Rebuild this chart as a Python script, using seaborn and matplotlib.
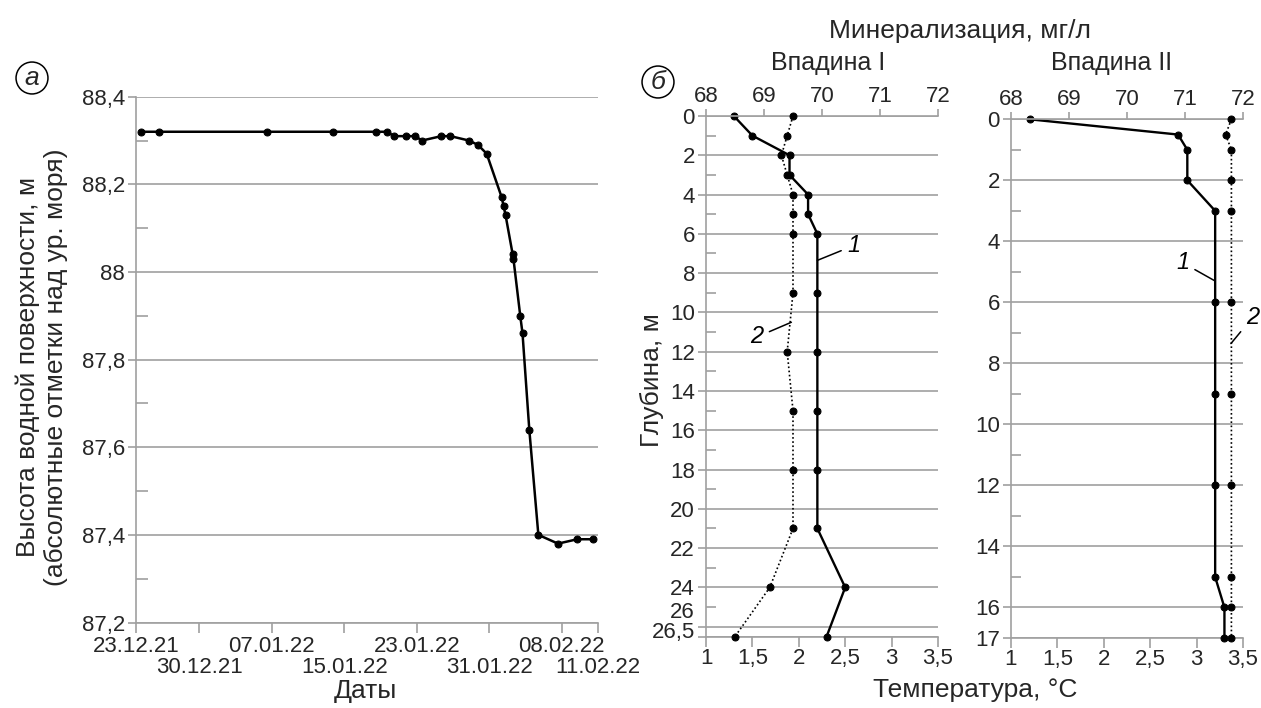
import matplotlib
matplotlib.use("Agg")
import pandas as pd
import seaborn as sns
from matplotlib import pyplot as plt
from matplotlib.ticker import FixedLocator
import matplotlib.transforms as mtransforms

# ---- panel a: water level
dates = ["2021-12-23 14:00", "2021-12-25 12:00", "2022-01-06 12:00", "2022-01-13 17:00",
         "2022-01-18 12:00", "2022-01-19 17:00", "2022-01-20 12:00", "2022-01-21 18:00",
         "2022-01-22 19:00", "2022-01-23 14:00", "2022-01-25 17:00", "2022-01-26 17:00",
         "2022-01-28 18:00", "2022-01-29 18:00", "2022-01-30 17:00", "2022-02-01 09:00",
         "2022-02-01 14:00", "2022-02-01 19:00", "2022-02-02 14:00", "2022-02-02 16:00",
         "2022-02-03 10:00", "2022-02-03 16:00", "2022-02-04 10:00", "2022-02-05 10:00",
         "2022-02-07 14:00", "2022-02-09 17:00", "2022-02-11 11:00"]
level = [88.32, 88.32, 88.32, 88.32, 88.32, 88.32, 88.31, 88.31, 88.31, 88.30,
         88.31, 88.31, 88.30, 88.29, 88.27, 88.17, 88.15, 88.13, 88.04, 88.03,
         87.90, 87.86, 87.64, 87.40, 87.38, 87.39, 87.39]

date_ticks_1 = ["2021-12-23", "2022-01-07", "2022-01-23", "2022-02-08"]
date_labels_1 = ["23.12.21", "07.01.22", "23.01.22", "08.02.22"]
date_ticks_2 = ["2021-12-30", "2022-01-15", "2022-01-31", "2022-02-12"]
date_labels_2 = ["30.12.21", "15.01.22", "31.01.22", "11.02.22"]
level_ticks = [87.2, 87.4, 87.6, 87.8, 88.0, 88.2, 88.4]
level_labels = ["87,2", "87,4", "87,6", "87,8", "88", "88,2", "88,4"]
level_minor = [87.3, 87.5, 87.7, 87.9, 88.1, 88.3]

# ---- panel b: profiles (1 - temperature, 2 - mineralization)
depth_I = [0, 1, 2, 3, 4, 5, 6, 9, 12, 15, 18, 21, 24, 26.5]
temp_I = [1.3, 1.5, 1.9, 1.9, 2.1, 2.1, 2.2, 2.2, 2.2, 2.2, 2.2, 2.2, 2.5, 2.3]
miner_I = [69.5, 69.4, 69.3, 69.4, 69.5, 69.5, 69.5, 69.5, 69.4, 69.5, 69.5, 69.5, 69.1, 68.5]
depth_II = [0, 0.5, 1, 2, 3, 6, 9, 12, 15, 16, 17]
temp_II = [1.2, 2.8, 2.9, 2.9, 3.2, 3.2, 3.2, 3.2, 3.2, 3.3, 3.3]
miner_II = [71.8, 71.7, 71.8, 71.8, 71.8, 71.8, 71.8, 71.8, 71.8, 71.8, 71.8]

temp_ticks = [1, 1.5, 2, 2.5, 3, 3.5]
temp_labels = ["1", "1,5", "2", "2,5", "3", "3,5"]
miner_ticks = [68, 69, 70, 71, 72]
depth_ticks_I = [0, 2, 4, 6, 8, 10, 12, 14, 16, 18, 20, 22, 24, 26, 26.5]
depth_minor_I = [1, 3, 5, 7, 9, 11, 13, 15, 17, 19, 21, 23, 25]
depth_ticks_II = [0, 2, 4, 6, 8, 10, 12, 14, 16, 17]
depth_minor_II = [1, 3, 5, 7, 9, 11, 13, 15]

GREY = "#a0a0a0"
W, H = 1261, 708
LW = 1.2

sns.set_theme(style="white")
plt.rcParams["font.family"] = ["Liberation Sans", "DejaVu Sans"]
plt.rcParams["axes.linewidth"] = LW

fig = plt.figure(figsize=(W / 100, H / 100), dpi=100)


def rect(l, t, r, b):
    return [l / W, 1 - b / H, (r - l) / W, (b - t) / H]


# ---------------- panel a
ax = fig.add_axes(rect(136, 96.7, 598, 622.5))
df = pd.DataFrame({"date": pd.to_datetime(dates), "level": level})
sns.lineplot(data=df, x="date", y="level", estimator=None, color="black", lw=1.8,
             marker="o", markersize=5, markeredgecolor="black", zorder=3, ax=ax)
ax.set_xlim(pd.Timestamp("2021-12-23"), pd.Timestamp("2022-02-12"))
ax.set_ylim(87.2, 88.4)
ax.set_yticks(level_ticks)
ax.set_yticklabels(level_labels)
ax.yaxis.set_minor_locator(FixedLocator(level_minor))
ax.set_xticks(pd.to_datetime(date_ticks_1))
ax.set_xticklabels(date_labels_1)
ax.set_xticks(pd.to_datetime(date_ticks_2), minor=True)
ax.set_xticklabels(date_labels_2, minor=True)
ax.tick_params(axis="x", which="both", direction="out", length=7.2, width=LW,
               color=GREY, labelsize=16, bottom=True)
ax.tick_params(axis="x", which="major", pad=2.5)
ax.tick_params(axis="x", which="minor", pad=17.5)
ax.tick_params(axis="y", which="major", direction="out", length=5.8, width=LW,
               color=GREY, labelsize=16, pad=2.2, left=True)
ax.tick_params(axis="y", which="minor", direction="in", length=8.6, width=LW,
               color=GREY, left=True)
ax.yaxis.grid(True, color=GREY, lw=LW)
ax.set_axisbelow(True)
for s in ["top", "right"]:
    ax.spines[s].set_visible(False)
for s in ["left", "bottom"]:
    ax.spines[s].set_color(GREY)
ax.set_xlabel("")
ax.set_ylabel("")
fig.text(365 / W, 1 - 691 / H, "Даты", fontsize=19, ha="center", va="center")
fig.text(42 / W, 1 - 367 / H,
         "Высота водной поверхности, м\n(абсолютные отметки над ур. моря)",
         fontsize=19, rotation=90, ha="center", va="center", linespacing=1.2,
         multialignment="center")
fig.text(32 / W, 1 - 78 / H, "а", fontsize=19, style="italic", ha="center", va="center",
         bbox=dict(boxstyle="circle,pad=0.15", fc="none", ec="black", lw=1.1))


# ---------------- panel b
def profile(box, depth, temp, miner, yticks, yminor, ymax, title, title_x):
    a = fig.add_axes(box)
    sns.lineplot(x=temp, y=depth, sort=False, estimator=None, color="black", lw=1.7,
                 marker="o", markersize=5, markeredgecolor="black", clip_on=False,
                 zorder=3, ax=a)
    at = a.twiny()
    sns.lineplot(x=miner, y=depth, sort=False, estimator=None, color="black", lw=1.2,
                 linestyle=(0, (1, 1.5)), marker="o", markersize=5,
                 markeredgecolor="black", clip_on=False, zorder=3, ax=at)
    a.set_xlim(1, 3.5)
    at.set_xlim(68, 72)
    a.set_ylim(ymax, 0)
    a.set_xticks(temp_ticks)
    a.set_xticklabels(temp_labels)
    at.set_xticks(miner_ticks)
    at.set_xticklabels([str(v) for v in miner_ticks])
    a.set_yticks(yticks)
    a.yaxis.set_minor_locator(FixedLocator(yminor))
    a.tick_params(axis="x", which="major", direction="out", length=7.2, width=LW,
                  color=GREY, labelsize=16, pad=1, bottom=True)
    at.tick_params(axis="x", which="major", direction="out", length=5, width=LW,
                   color=GREY, labelsize=16, pad=1.5, top=True)
    a.tick_params(axis="y", which="major", direction="out", length=5.8, width=LW,
                  color=GREY, labelsize=16, pad=2.2, left=True)
    a.tick_params(axis="y", which="minor", direction="in", length=7.2, width=LW,
                  color=GREY, left=True)
    a.yaxis.grid(True, color=GREY, lw=LW)
    a.set_axisbelow(True)
    for s in ["top", "right"]:
        a.spines[s].set_visible(False)
    for s in ["left", "bottom", "right"]:
        at.spines[s].set_visible(False)
    for s in ["left", "bottom"]:
        a.spines[s].set_color(GREY)
    at.spines["top"].set_color(GREY)
    for obj in (a, at):
        obj.set_xlabel("")
        obj.set_ylabel("")
    fig.text(title_x / W, 1 - 63 / H, title, fontsize=18, ha="center", va="center")
    return a, at


b1, b1t = profile(rect(706, 116, 938, 636.5), depth_I, temp_I, miner_I,
                  depth_ticks_I, depth_minor_I, 26.5, "Впадина I", 828)
labels_I = [str(v) for v in depth_ticks_I[:-2]] + ["", ""]
b1.set_yticklabels(labels_I)
lab_tr = mtransforms.offset_copy(b1.get_yaxis_transform(), fig, x=-11, y=0, units="dots")
b1.text(0, 25.3, "26", transform=lab_tr, fontsize=16, ha="right", va="center")
b1.text(0, 26.3, "26,5", transform=lab_tr, fontsize=16, ha="right", va="center")

b2, b2t = profile(rect(1011, 119.3, 1243, 638), depth_II, temp_II, miner_II,
                  depth_ticks_II, depth_minor_II, 17, "Впадина II", 1112)
b2.set_yticklabels([str(v) for v in depth_ticks_II])

# curve labels
ann = dict(fontsize=17, style="italic", color="black")
lead = dict(arrowstyle="-", color="black", lw=1.1, shrinkA=2, shrinkB=0)
b1.annotate("1", xy=(2.2, 7.35), xytext=(2.52, 6.6), ha="left", va="center",
            arrowprops=lead, **ann)
b1.annotate("2", xy=(1.92, 10.5), xytext=(1.62, 11.25), ha="right", va="center",
            arrowprops=lead, **ann)
b2.annotate("1", xy=(3.2, 5.3), xytext=(2.92, 4.7), ha="right", va="center",
            arrowprops=lead, **ann)
b2.annotate("2", xy=(3.37, 7.35), xytext=(3.53, 6.5), ha="left", va="center",
            annotation_clip=False, arrowprops=lead, **ann)

fig.text(652 / W, 1 - 380 / H, "Глубина, м", fontsize=19, rotation=90, ha="center", va="center")
fig.text(975 / W, 1 - 690 / H, "Температура, °С", fontsize=19, ha="center", va="center")
fig.text(960 / W, 1 - 31 / H, "Минерализация, мг/л", fontsize=19, ha="center", va="center")
fig.text(658 / W, 1 - 82 / H, "б", fontsize=19, style="italic", ha="center", va="center",
         bbox=dict(boxstyle="circle,pad=0.15", fc="none", ec="black", lw=1.1))

fig.savefig("out.png", dpi=100)
